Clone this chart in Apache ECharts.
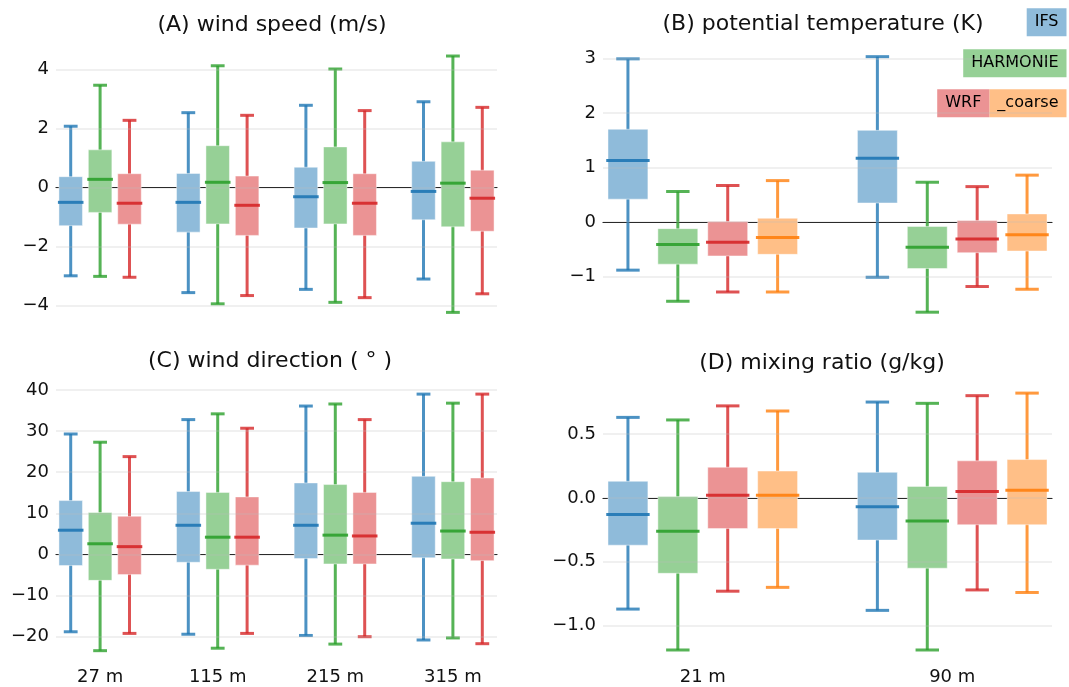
<!DOCTYPE html>
<html>
<head>
<meta charset="utf-8">
<script src="https://cdn.jsdelivr.net/npm/echarts@6/dist/echarts.min.js"></script>
<style>
  html, body { margin: 0; padding: 0; background: #fff; }
  #main { width: 1069px; height: 687px; }
</style>
</head>
<body>
<div id="main"></div>
<script>
// heights of the two groups of panels
var heightsWind = ['27 m', '115 m', '215 m', '315 m'];
var heightsThermo = ['21 m', '90 m'];
var models = ['IFS', 'HARMONIE', 'WRF', 'WRF_coarse'];

// each box: [lower whisker, q1, median, q3, upper whisker], one per height
var windSpeedIFS      = [[-3.00, -1.30, -0.51, 0.36, 2.07], [-3.57, -1.52, -0.51, 0.47, 2.53], [-3.46, -1.38, -0.32, 0.68, 2.78], [-3.11, -1.10, -0.14, 0.88, 2.90]];
var windSpeedHARMONIE = [[-3.02, -0.85, 0.27, 1.27, 3.46], [-3.95, -1.24, 0.17, 1.41, 4.12], [-3.90, -1.24, 0.16, 1.37, 4.01], [-4.24, -1.34, 0.14, 1.54, 4.45]];
var windSpeedWRF      = [[-3.05, -1.25, -0.54, 0.46, 2.27], [-3.67, -1.63, -0.61, 0.38, 2.44], [-3.74, -1.63, -0.54, 0.46, 2.60], [-3.61, -1.49, -0.37, 0.58, 2.71]];

var thetaIFS          = [[-0.88, 0.42, 1.13, 1.70, 2.99], [-1.01, 0.35, 1.17, 1.68, 3.03]];
var thetaHARMONIE     = [[-1.45, -0.77, -0.41, -0.12, 0.56], [-1.65, -0.85, -0.46, -0.08, 0.73]];
var thetaWRF          = [[-1.28, -0.62, -0.37, 0.01, 0.67], [-1.18, -0.56, -0.31, 0.03, 0.65]];
var thetaWRFcoarse    = [[-1.28, -0.59, -0.28, 0.07, 0.76], [-1.23, -0.53, -0.23, 0.15, 0.86]];

var windDirIFS        = [[-18.8, -2.7, 5.9, 13.1, 29.3], [-19.4, -1.9, 7.1, 15.3, 32.8], [-19.7, -1.0, 7.1, 17.4, 36.1], [-20.8, -0.8, 7.6, 19.0, 39.0]];
var windDirHARMONIE   = [[-23.4, -6.3, 2.6, 10.2, 27.3], [-22.8, -3.6, 4.2, 15.1, 34.2], [-21.8, -2.3, 4.7, 17.0, 36.6], [-20.3, -1.1, 5.7, 17.7, 36.8]];
var windDirWRF        = [[-19.2, -4.9, 1.9, 9.3, 23.8], [-19.2, -2.6, 4.2, 14.0, 30.7], [-20.0, -2.3, 4.5, 15.1, 32.8], [-21.7, -1.5, 5.4, 18.6, 39.0]];

var mixIFS            = [[-0.87, -0.37, -0.13, 0.13, 0.63], [-0.88, -0.33, -0.07, 0.20, 0.75]];
var mixHARMONIE       = [[-1.19, -0.59, -0.26, 0.01, 0.61], [-1.19, -0.55, -0.18, 0.09, 0.74]];
var mixWRF            = [[-0.73, -0.24, 0.02, 0.24, 0.72], [-0.72, -0.21, 0.05, 0.29, 0.80]];
var mixWRFcoarse      = [[-0.70, -0.24, 0.02, 0.21, 0.68], [-0.74, -0.21, 0.06, 0.30, 0.82]];

var colors = [[31, 119, 180], [44, 160, 44], [214, 39, 40], [255, 127, 14]];

function rgba(c, a) { return 'rgba(' + c[0] + ',' + c[1] + ',' + c[2] + ',' + a + ')'; }
function pale(c) {
  // colour at alpha 0.5 over white
  return 'rgb(' + Math.round((c[0] + 255) / 2) + ',' + Math.round((c[1] + 255) / 2) + ',' + Math.round((c[2] + 255) / 2) + ')';
}
function minus(s) { return String(s).replace('-', '\u2212'); }

var panels = [
  { title: '(A) wind speed (m/s)', tx: 272, ty: 25, heights: heightsWind, boxes: [windSpeedIFS, windSpeedHARMONIE, windSpeedWRF],
    grid: { left: 56, top: 69.3, width: 441, height: 236 }, min: -4, max: 4, interval: 2, dec: 0, xLabels: false },
  { title: '(B) potential temperature (K)', tx: 823, ty: 24, heights: heightsThermo, boxes: [thetaIFS, thetaHARMONIE, thetaWRF, thetaWRFcoarse],
    grid: { left: 603, top: 58.3, width: 449, height: 218.4 }, min: -1, max: 3, interval: 1, dec: 0, xLabels: false },
  { title: '(C) wind direction ( \u00b0 )', tx: 270, ty: 361, heights: heightsWind, boxes: [windDirIFS, windDirHARMONIE, windDirWRF],
    grid: { left: 56, top: 390, width: 441, height: 246.7 }, min: -20, max: 40, interval: 10, dec: 0, xLabels: true, margin: 32 },
  { title: '(D) mixing ratio (g/kg)', tx: 822, ty: 363, heights: heightsThermo, boxes: [mixIFS, mixHARMONIE, mixWRF, mixWRFcoarse],
    grid: { left: 603, top: 434, width: 449, height: 191.7 }, min: -1, max: 0.5, interval: 0.5, dec: 1, xLabels: true, margin: 43 }
];

function boxRenderer(c) {
  return function (params, api) {
    var x = api.value(0);
    var lo = api.coord([x, api.value(1)]);
    var q1 = api.coord([x, api.value(2)]);
    var md = api.coord([x, api.value(3)]);
    var q3 = api.coord([x, api.value(4)]);
    var hi = api.coord([x, api.value(5)]);
    var slot = api.size([1, 0])[0];
    var cx = lo[0];
    var bw = slot * 0.8, cw = slot * 0.47, mw = slot * 0.87;
    var whisk = { stroke: rgba(c, 0.8), lineWidth: 3 };
    return {
      type: 'group',
      children: [
        { type: 'line', shape: { x1: cx, y1: lo[1], x2: cx, y2: q1[1] - 2 }, style: whisk },
        { type: 'line', shape: { x1: cx, y1: hi[1], x2: cx, y2: q3[1] + 2 }, style: whisk },
        { type: 'line', shape: { x1: cx - cw / 2, y1: lo[1], x2: cx + cw / 2, y2: lo[1] }, style: whisk },
        { type: 'line', shape: { x1: cx - cw / 2, y1: hi[1], x2: cx + cw / 2, y2: hi[1] }, style: whisk },
        { type: 'rect', shape: { x: cx - bw / 2, y: q3[1], width: bw, height: q1[1] - q3[1] },
          style: { fill: pale(c), stroke: 'rgba(255,255,255,0.45)', lineWidth: 1 } },
        { type: 'line', shape: { x1: cx - mw / 2, y1: md[1], x2: cx + mw / 2, y2: md[1] },
          style: { stroke: rgba(c, 0.9), lineWidth: 3 } }
      ]
    };
  };
}

var grids = [], xAxes = [], yAxes = [], series = [], graphics = [];
var font = 'DejaVu Sans';

panels.forEach(function (p, i) {
  var n = p.boxes.length;
  var step = n + 1;
  var xMax = p.heights.length * step - 1.5;
  var centers = p.heights.map(function (h, k) { return k * step + (n - 1) / 2; });
  grids.push(p.grid);
  // label axis at the bottom
  xAxes.push({
    gridIndex: i, type: 'value', min: -0.5, max: xMax, position: 'bottom',
    axisLine: { show: false, onZero: false }, axisTick: { show: false }, splitLine: { show: false },
    axisLabel: {
      show: p.xLabels, customValues: centers, margin: p.margin || 8,
      fontFamily: font, fontSize: 18, color: '#111',
      formatter: function (v) {
        var k = centers.indexOf(v);
        return k >= 0 ? p.heights[k] : '';
      }
    }
  });
  // zero line
  xAxes.push({
    gridIndex: i, type: 'value', min: -0.5, max: xMax, position: 'bottom',
    axisLine: { show: true, onZero: true, lineStyle: { color: '#000', width: 1 } },
    axisTick: { show: false }, axisLabel: { show: false }, splitLine: { show: false }
  });
  yAxes.push({
    gridIndex: i, type: 'value', min: p.min, max: p.max, interval: p.interval, z: 5,
    axisLine: { show: false }, axisTick: { show: false },
    splitLine: { show: true, lineStyle: { color: 'rgba(190,190,190,0.3)', width: 1.5 } },
    axisLabel: {
      margin: 7, fontFamily: font, fontSize: 18, color: '#111',
      formatter: function (v) { return minus(v.toFixed(p.dec)); }
    }
  });
  p.boxes.forEach(function (arr, j) {
    series.push({
      type: 'custom', name: models[j], xAxisIndex: i * 2, yAxisIndex: i, z: 2,
      renderItem: boxRenderer(colors[j]), silent: true,
      data: arr.map(function (b, k) { return [k * step + j].concat(b); })
    });
  });
  graphics.push({
    type: 'text', x: p.tx, y: p.ty, silent: true,
    style: { text: p.title, fill: '#111', font: '22px "' + font + '"', align: 'center', verticalAlign: 'middle' }
  });
});

// legend in the top right corner
function legendBox(c) { return { backgroundColor: pale(c), padding: [6, 8], lineHeight: 18, fontSize: 16, fontFamily: font, color: '#111' }; }
graphics.push({
  type: 'text', x: 1066.5, y: 22.3, silent: true,
  style: { text: '{a|' + models[0] + '}', rich: { a: legendBox(colors[0]) }, align: 'right', verticalAlign: 'middle' }
});
graphics.push({
  type: 'text', x: 1066.5, y: 63.3, silent: true,
  style: { text: '{a|' + models[1] + '}', rich: { a: legendBox(colors[1]) }, align: 'right', verticalAlign: 'middle' }
});
graphics.push({
  type: 'text', x: 1066.5, y: 103.3, silent: true,
  style: { text: '{a|' + models[2] + '}{b|' + models[3].slice(3) + '}', rich: { a: legendBox(colors[2]), b: legendBox(colors[3]) },
    align: 'right', verticalAlign: 'middle' }
});

var myChart = echarts.init(document.getElementById('main'));
myChart.setOption({
  animation: false,
  backgroundColor: '#fff',
  grid: grids,
  xAxis: xAxes,
  yAxis: yAxes,
  series: series,
  graphic: graphics
});
</script>
</body>
</html>
